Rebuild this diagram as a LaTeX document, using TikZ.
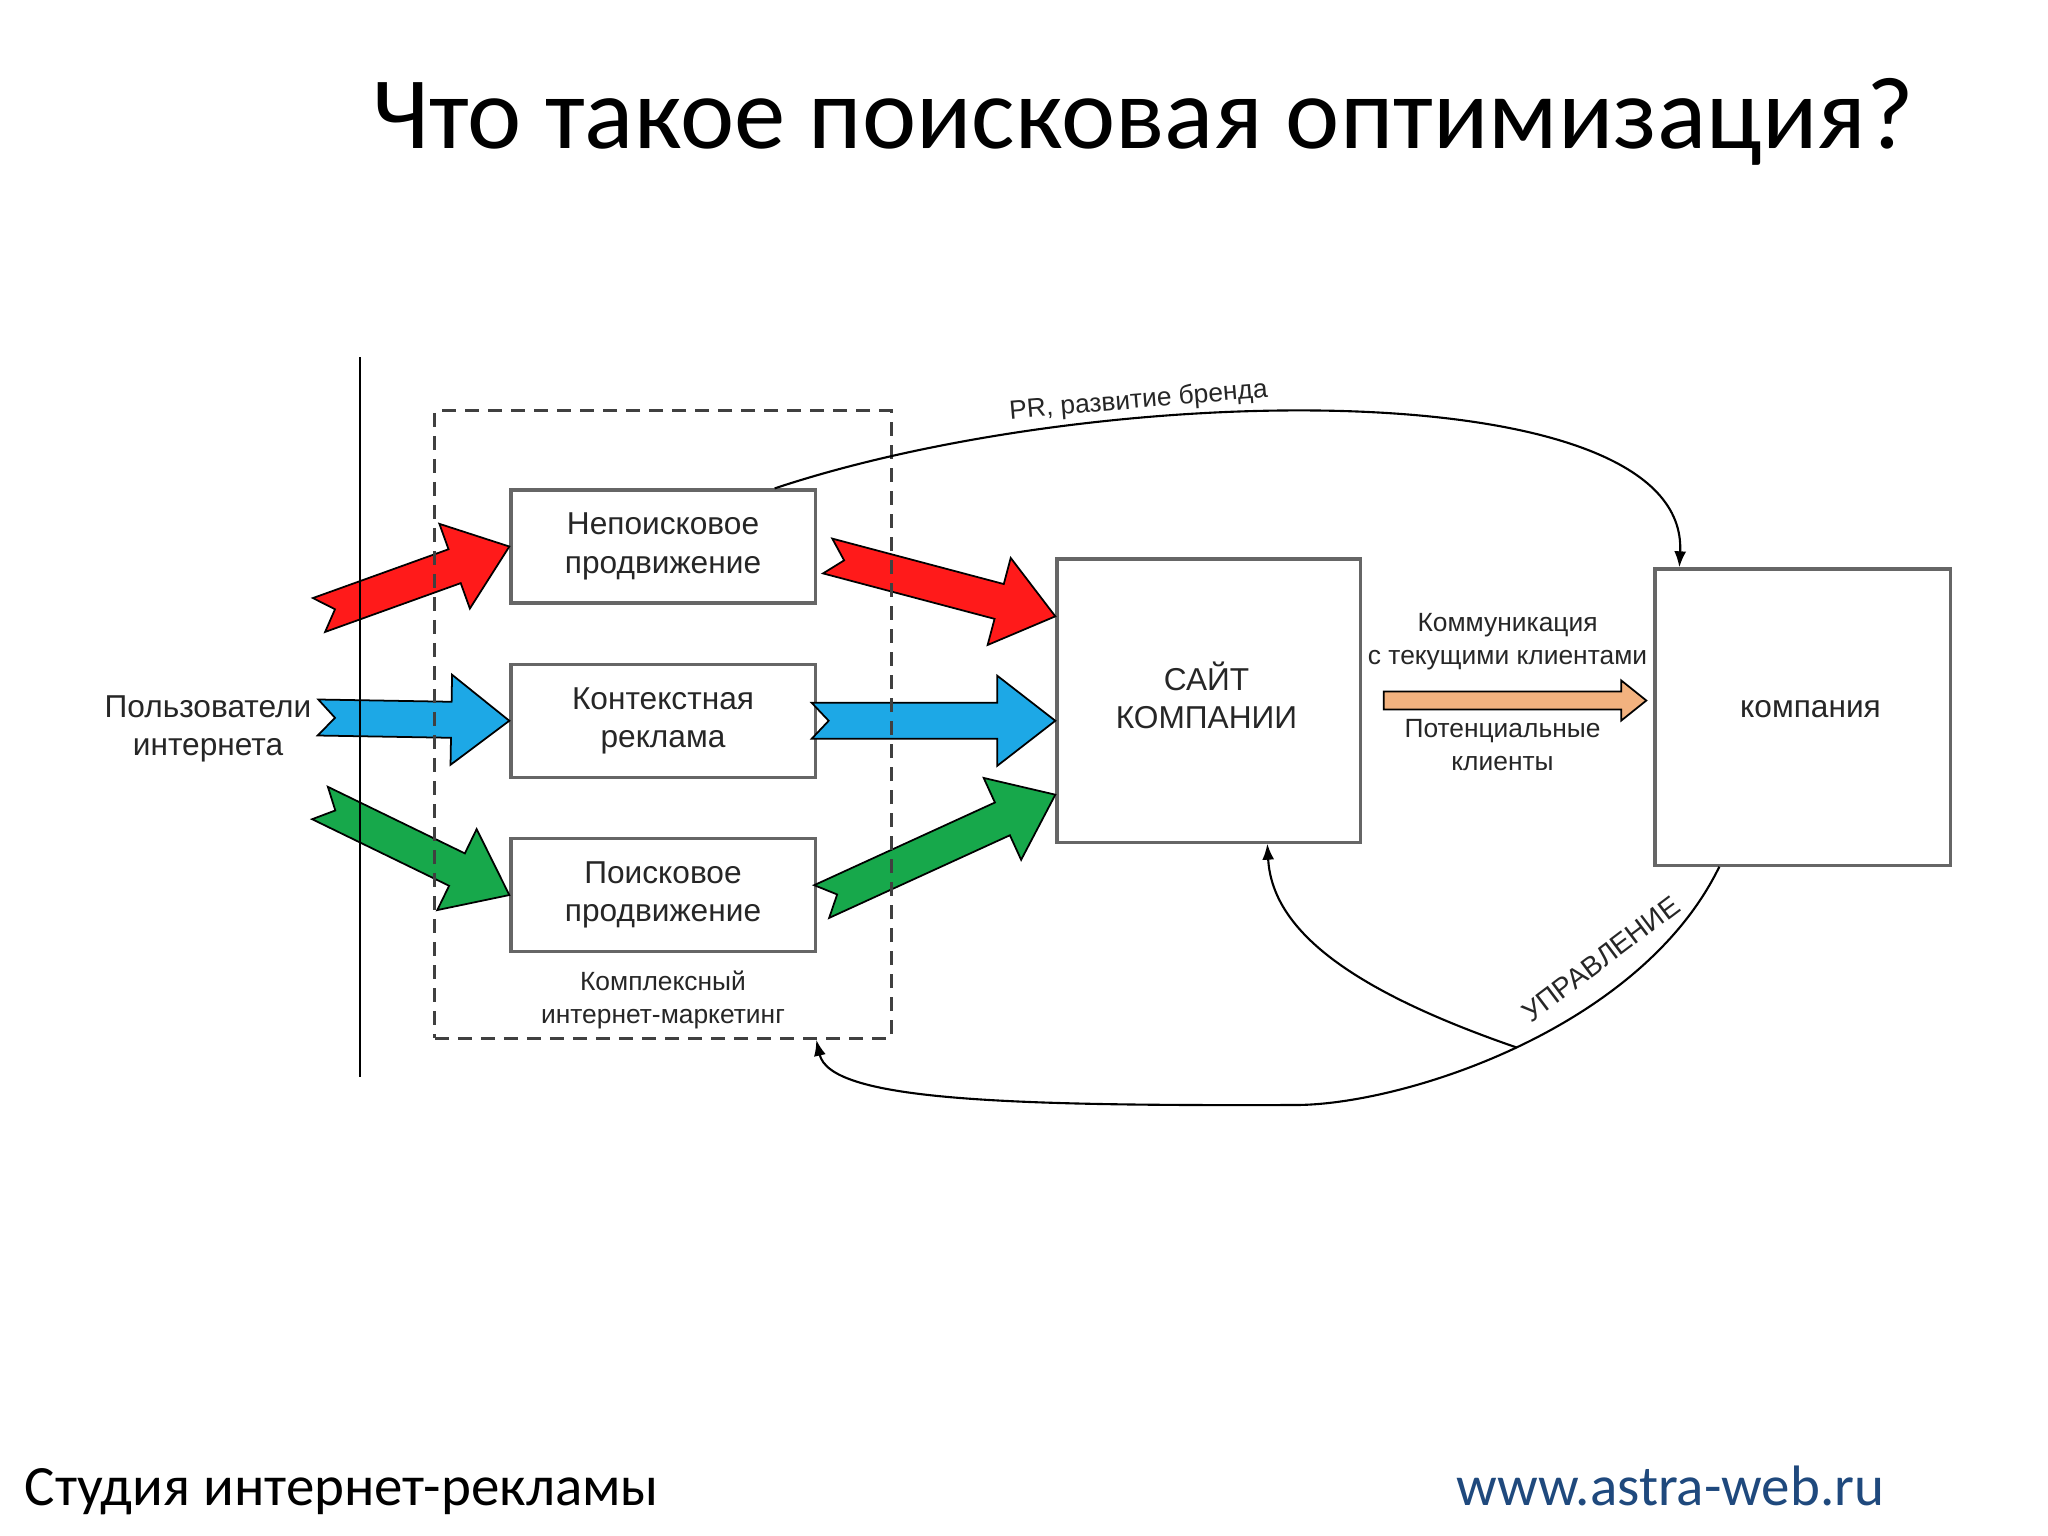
\documentclass[tikz,border=0pt]{standalone}
\usepackage{fontspec}
\setmainfont{Carlito}
\newfontfamily\diagfont{Liberation Sans}
\usetikzlibrary{arrows.meta,positioning,calc}
\definecolor{arrred}{HTML}{FF1A1A}
\definecolor{arrblue}{HTML}{1DA8E6}
\definecolor{arrgreen}{HTML}{17A84B}
\definecolor{arrorange}{HTML}{F2B27F}
\definecolor{urlblue}{HTML}{1F497D}

% sizes of the fat arrows
\newcommand\shw{0.18cm}
\newcommand\hdw{0.45cm}
\newcommand\hdl{0.58cm}
\newcommand\ntd{0.17cm}
% colour, tail, tip
\newcommand\fatarrow[3]{%
  \filldraw[fatline,fill=#1] let \p1=($(#3)-(#2)$), \n1={atan2(\y1,\x1)},
      \n2={veclen(\x1,\y1)-\hdl}, \n3={\n1+90}, \n4={\n1-90} in
    ($(#2)+(\n3:\shw)$) -- ($(#2)+(\n1:\n2)+(\n3:\shw)$) -- ($(#2)+(\n1:\n2)+(\n3:\hdw)$) -- (#3)
    -- ($(#2)+(\n1:\n2)+(\n4:\hdw)$) -- ($(#2)+(\n1:\n2)+(\n4:\shw)$) -- ($(#2)+(\n4:\shw)$)
    -- ($(#2)+(\n1:\ntd)$) -- cycle;}

\begin{document}
\begin{tikzpicture}[x=0.01cm,y=-0.01cm,
  font=\diagfont\fontsize{9}{11}\selectfont,text=black!85,
  blk/.style={draw=black!60,line width=0.9pt,minimum width=3.04cm,minimum height=1.13cm,
    align=center,inner sep=0pt},
  grp/.style={draw=black!75,line width=0.9pt,dash pattern=on 0.14cm off 0.09cm},
  lbl/.style={font=\diagfont\fontsize{7.5}{9.4}\selectfont,align=center,inner sep=1pt},
  fatline/.style={draw=black,line width=0.5pt},
  flow/.style={-{Latex[length=1.6mm,width=1.2mm]},line width=0.6pt}]
\useasboundingbox (0,0) rectangle (2048,1536);

\node[anchor=base,inner sep=0pt,text=black,font=\normalfont\fontsize{29.2}{35}\selectfont] (title)
  at (1143,148) {Что такое поисковая оптимизация?};
\node[anchor=base west,inner sep=0pt,text=black,font=\normalfont\fontsize{16.2}{20}\selectfont] (studio)
  at (24,1505) {Студия интернет-рекламы};
\node[anchor=base east,inner sep=0pt,text=urlblue,font=\normalfont\fontsize{16.2}{20}\selectfont] (url)
  at (1885,1505) {www.astra-web.ru};

\node[blk] (np) at (663,546.5) {Непоисковое\\продвижение};
\node[blk,below=0.58cm of np] (kr) {Контекстная\\реклама};
\node[blk,below=0.58cm of kr] (pp) {Поисковое\\продвижение};
\node[blk,minimum width=3.03cm,minimum height=2.83cm] (site) at (1208.5,700.5) {};
\node[align=center,inner sep=0pt] (sitetxt) at ($(site.center)+(-2,-5)$) {САЙТ\\КОМПАНИИ};
\node[blk,minimum width=2.95cm,minimum height=2.96cm] (co) at (1802.5,717) {};
\node[inner sep=0pt] (cotxt) at ($(co.center)+(8,-8)$) {компания};
\node[align=center,inner sep=0pt] (users) at (208,729) {Пользователи\\интернета};

\coordinate (r1) at (319,615);
\coordinate (b1) at (318,717.5);
\coordinate (g1) at (320,803);
\coordinate (r2) at ($(np.east)+(11,9.5)$);
\coordinate (r2t) at ($(site.north west)+(0,59)$);
\coordinate (b2) at ($(kr.east)+(-5,0)$);
\coordinate (b2t) at (site.west |- kr.east);
\coordinate (g2) at ($(pp.east)+(5,6.5)$);
\coordinate (g2t) at ($(site.south west)+(0,-49)$);
\coordinate (o1) at ($(site.east)+(22,0)$);
\coordinate (o2) at ($(co.west |- site.east)+(-7,0)$);
\coordinate (om) at ($(site.east)!0.5!(co.west |- site.east)$);

\fatarrow{arrred}{r1}{np.west}
\fatarrow{arrblue}{b1}{kr.west}
\fatarrow{arrgreen}{g1}{pp.west}
\fatarrow{arrred}{r2}{r2t}
\fatarrow{arrblue}{b2}{b2t}
\fatarrow{arrgreen}{g2}{g2t}
{\renewcommand\shw{0.09cm}\renewcommand\hdw{0.2cm}\renewcommand\hdl{0.25cm}\renewcommand\ntd{0cm}%
 \fatarrow{arrorange}{o1}{o2}}

\draw[line width=0.8pt] (360,357) -- (360,1077);
\node[grp,minimum width=4.56cm,minimum height=6.27cm] (kim) at (663,724.5) {};
\node[lbl] (kimlbl) at (663,1000) {Комплексный\\интернет-маркетинг};
\node[lbl] (comm) at ($(om)+(0,-59)$) {Коммуникация\\с текущими клиентами};
\node[lbl] (pot) at ($(om)+(-5,45)$) {Потенциальные\\клиенты};

\draw[flow] ($(np.north east)+(-42,0)$) .. controls (1100,380) and (1690,370) .. ($(co.north west)+(26,0)$)
  node[lbl,pos=0.32,above,sloped] (prl) {PR, развитие бренда};
\draw[flow] ($(co.south west)+(66,0)$) .. controls (1640,1030) and (1400,1106) .. (1293,1105)
  coordinate[pos=0.5] (jn) .. controls (1000,1106) and (830,1100) .. ($(kim.south west)+(383,0)$);
\draw[flow] (jn) .. controls (1350,990) and (1272,930) .. ($(site.south west)+(212,0)$);
\node[lbl,rotate=37,font=\diagfont\fontsize{8}{10}\selectfont] (upr) at (1601,959) {УПРАВЛЕНИЕ};
\end{tikzpicture}
\end{document}
